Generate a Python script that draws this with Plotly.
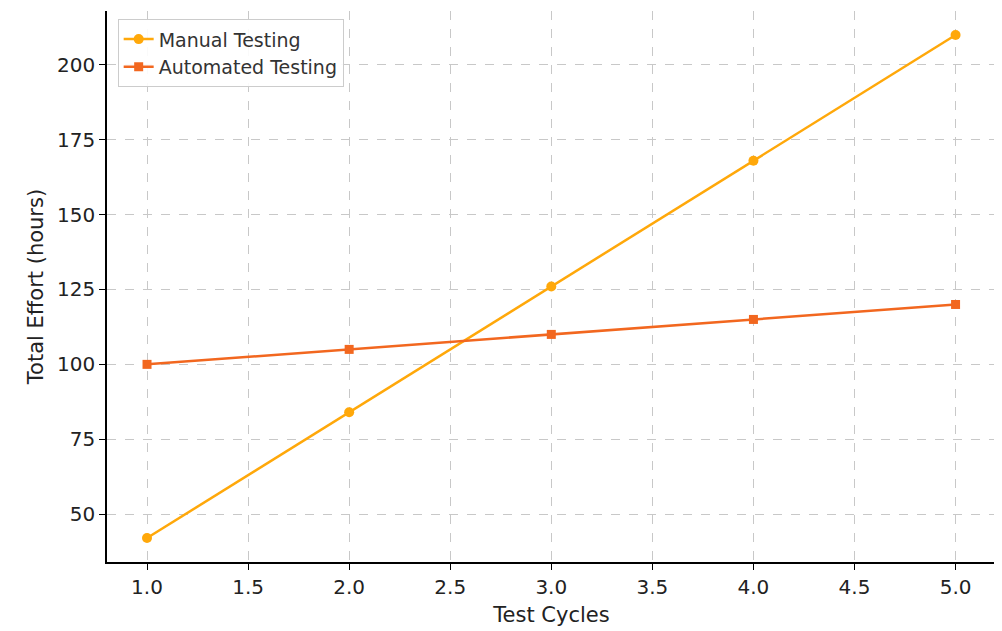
import plotly.graph_objects as go

cycles = [1, 2, 3, 4, 5]
manual_effort = [42, 84, 126, 168, 210]
automated_effort = [100, 105, 110, 115, 120]

fig = go.Figure()
fig.add_trace(go.Scatter(
    x=cycles, y=manual_effort, mode='lines+markers', name='Manual Testing',
    line=dict(color='#FFA80A', width=2.5),
    marker=dict(symbol='circle', size=10, color='#FFA80A'),
))
fig.add_trace(go.Scatter(
    x=cycles, y=automated_effort, mode='lines+markers', name='Automated Testing',
    line=dict(color='#F2671F', width=2.5),
    marker=dict(symbol='square', size=9, color='#F2671F'),
))

axis_font = dict(family='DejaVu Sans', size=21, color='#222')
fig.update_layout(
    width=1002, height=631,
    margin=dict(l=99, r=14, t=3, b=77, autoexpand=False),
    plot_bgcolor='white', paper_bgcolor='white',
    font=dict(family='DejaVu Sans', size=20, color='#222'),
    xaxis=dict(
        title=dict(text='Test Cycles', font=axis_font, standoff=10),
        range=[0.802, 5.2], tickvals=[1, 1.5, 2, 2.5, 3, 3.5, 4, 4.5, 5],
        ticktext=['1.0', '1.5', '2.0', '2.5', '3.0', '3.5', '4.0', '4.5', '5.0'],
        showline=True, linecolor='black', linewidth=1.5,
        ticks='outside', ticklen=6, tickcolor='black',
        showgrid=True, gridcolor='#c8c8c8', griddash='dash', gridwidth=1,
        zeroline=False, automargin=False,
    ),
    yaxis=dict(
        title=dict(text='Total Effort (hours)', font=axis_font, standoff=8),
        range=[34, 218], tickvals=[50, 75, 100, 125, 150, 175, 200],
        showline=True, linecolor='black', linewidth=1.5,
        ticks='outside', ticklen=6, tickcolor='black',
        showgrid=True, gridcolor='#c8c8c8', griddash='dash', gridwidth=1,
        zeroline=False, automargin=False,
    ),
    legend=dict(
        x=0.012, y=0.985, xanchor='left', yanchor='top',
        bgcolor='rgba(255,255,255,0.9)', bordercolor='#cccccc', borderwidth=1,
        font=dict(size=19, color='#333'),
    ),
)

fig.write_html("out.html")
